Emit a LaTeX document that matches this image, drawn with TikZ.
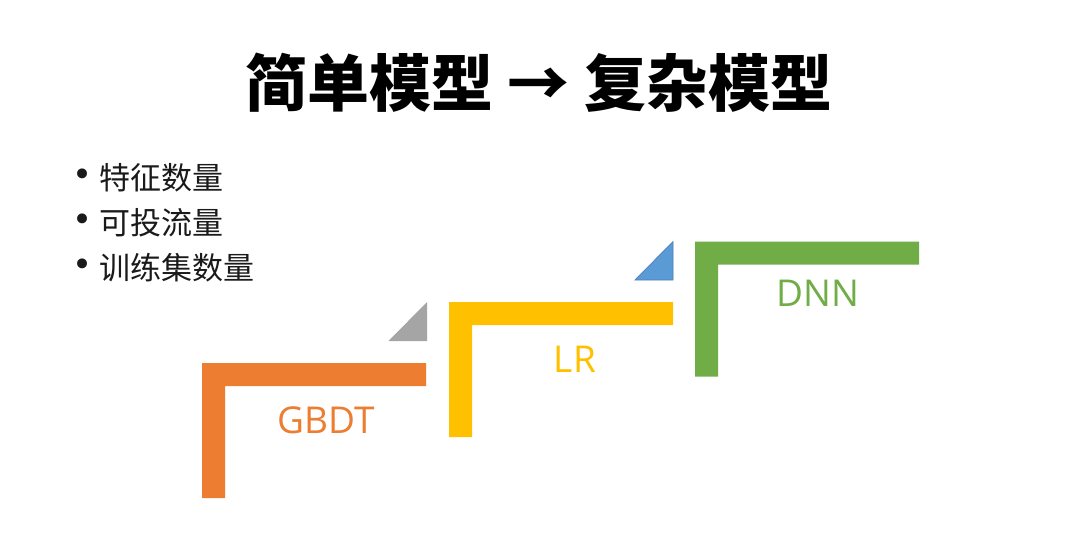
\documentclass[tikz,border=0pt]{standalone}
\usepackage{fontspec}
\newfontfamily\cjk{Noto Sans CJK SC}
\newfontfamily\lab{Open Sans}
\newfontfamily\dv{DejaVu Sans}
\definecolor{orng}{HTML}{ED7D31}
\definecolor{yllw}{HTML}{FFC000}
\definecolor{grn}{HTML}{70AD47}
\definecolor{gry}{HTML}{A5A5A5}
\definecolor{blu}{HTML}{5B9BD5}
\definecolor{bluedge}{HTML}{4A7EBB}
\definecolor{txt}{HTML}{1A1A1A}
\tikzset{
  pics/lstep/.style={code={
    \fill[pic actions] (0,0) -- (224,0) -- (224,23) -- (23,23) -- (23,135) -- (0,135) -- cycle;
  }},
  steplabel/.style={font=\lab\fontsize{37}{44}\selectfont, inner sep=0pt},
  bullettext/.style={font=\cjk\fontsize{31}{36}\selectfont, text=txt, anchor=west, inner sep=0pt},
  bulletdot/.style={font=\dv\fontsize{34}{40}\selectfont, text=txt, inner sep=0pt},
  corner/.style={fill=#1}
}
\begin{document}
\begin{tikzpicture}[x=1pt,y=-1pt]
\useasboundingbox[fill=white] (0,0) rectangle (1080,546);
% title
\node[font=\cjk\bfseries\fontsize{62}{72}\selectfont, inner sep=0pt] (title) at (539,83) {简单模型 → 复杂模型};
% bullets
\node[bulletdot] (d1) at (83,177.5) {•};
\node[bullettext] (b1) at (99,177.5) {特征数量};
\node[bulletdot] (d2) at (83,223) {•};
\node[bullettext] (b2) at (99,223) {可投流量};
\node[bulletdot] (d3) at (83,268) {•};
\node[bullettext] (b3) at (99,268) {训练集数量};
% steps
\pic[fill=orng] (s1) at (202,363) {lstep};
\pic[fill=yllw] (s2) at (449,302) {lstep};
\pic[fill=grn] (s3) at (695,241.5) {lstep};
% corner triangles
\fill[gry] (388.5,341) -- (427,341) -- (427,302) -- cycle;
\filldraw[fill=blu, draw=bluedge, line width=0.7pt] (635,280) -- (673,280) -- (673,241.5) -- cycle;
% labels
\node[steplabel, text=orng] (l1) at (326.5,420) {GBDT};
\node[steplabel, text=yllw] (l2) at (575,359) {LR};
\node[steplabel, text=grn] (l3) at (818,293) {DNN};
\end{tikzpicture}
\end{document}
